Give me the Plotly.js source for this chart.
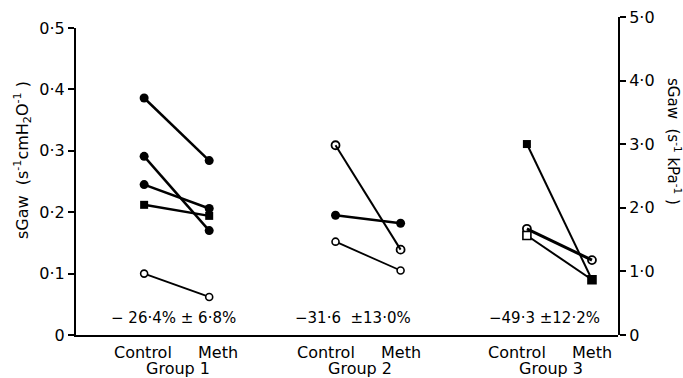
<!DOCTYPE html>
<html>
<head>
<meta charset="utf-8">
<script src="https://cdn.plot.ly/plotly-3.0.1.min.js"></script>
<style>
  html, body { margin: 0; padding: 0; background: #fff; }
  #chart { width: 683px; height: 378px; }
</style>
</head>
<body>
<div id="chart"></div>
<script>
// Specific airway conductance before (Control) and after methacholine (Meth)
const groupNames = ['Group 1', 'Group 2', 'Group 3'];
const conditionNames = ['Control', 'Meth'];

// one entry per subject: group number, control and post-methacholine sGaw (s^-1 cmH2O^-1)
const subjectGroup  = [1, 1, 1, 1, 1, 2, 2, 2, 3, 3, 3];
const controlSgaw   = [0.386, 0.291, 0.245, 0.212, 0.100, 0.309, 0.195, 0.152, 0.311, 0.173, 0.162];
const methSgaw      = [0.284, 0.170, 0.206, 0.194, 0.062, 0.139, 0.182, 0.105, 0.090, 0.122, 0.090];

// mean percentage change per group
const changeLabels = ['\u2212 26\u00b74%\u00a0\u00b1 6\u00b78%', '\u221231\u00b76\u00a0\u00a0\u00b113\u00b70%', '\u221249\u00b73\u00a0\u00b112\u00b72%'];

// axis tick labels
const leftTickVals  = [0, 0.1, 0.2, 0.3, 0.4, 0.5];
const leftTickText  = ['0', '0\u00b71', '0\u00b72', '0\u00b73', '0\u00b74', '0\u00b75'];
const rightTickVals = [0, 1, 2, 3, 4, 5];
const rightTickText = ['0', '1\u00b70', '2\u00b70', '3\u00b70', '4\u00b70', '5\u00b70'];

// marker look for each subject
const FILLED = 'filled', HOLLOW = 'hollow', CROSSED = 'crossed';
const subjectStyle = [
  { sym: ['circle', 'circle'], kind: FILLED, lw: 2.5 },
  { sym: ['circle', 'circle'], kind: FILLED, lw: 2.5 },
  { sym: ['circle', 'circle'], kind: FILLED, lw: 2.5 },
  { sym: ['square', 'square'], kind: FILLED, lw: 2.5 },
  { sym: ['circle', 'circle'], kind: HOLLOW, lw: 1.8 },
  { sym: ['circle-open', 'circle-open'], kind: CROSSED, lw: 2 },
  { sym: ['circle', 'circle'], kind: FILLED, lw: 2.5 },
  { sym: ['circle', 'circle'], kind: HOLLOW, lw: 1.8 },
  { sym: ['square', 'square'], kind: FILLED, lw: 2 },
  { sym: ['circle-open', 'circle-open'], kind: CROSSED, lw: 3 },
  { sym: ['square', 'square'], kind: HOLLOW, lw: 2, methFilled: true }
];

const OFFSET = 0.17;           // half distance between Control and Meth within a group
const FONT = 'DejaVu Sans, Arial, sans-serif';

const traces = subjectGroup.map((g, i) => {
  const st = subjectStyle[i];
  const x = [g - OFFSET, g + OFFSET];
  const y = [controlSgaw[i], methSgaw[i]];
  let marker;
  if (st.kind === FILLED) {
    marker = { symbol: st.sym, size: st.sym[0] === 'square' ? 8 : 9, color: '#000', line: { color: '#000', width: 0 } };
  } else if (st.kind === HOLLOW) {
    const fill = st.methFilled ? ['#fff', '#000'] : ['#fff', '#fff'];
    marker = { symbol: st.sym, size: st.sym[0] === 'square' ? 8 : 7, color: fill, line: { color: '#000', width: 1.6 } };
  } else {
    marker = { symbol: st.sym, size: 8, color: '#000', line: { color: '#000', width: 1.8 } };
  }
  return {
    type: 'scatter', mode: 'lines+markers', x: x, y: y,
    xaxis: 'x', yaxis: 'y',
    line: { color: '#000', width: st.lw },
    marker: marker, showlegend: false, hoverinfo: 'skip', cliponaxis: false
  };
});

// empty carrier trace so the kPa axis subplot gets drawn
traces.unshift({ type: 'scatter', mode: 'markers', x: [null], y: [null], xaxis: 'x2', yaxis: 'y2',
  showlegend: false, hoverinfo: 'skip' });

const annotations = [];
const labelShift = [1, -8, -8];
const changeShift = [-3, -15, -15];
groupNames.forEach((name, k) => {
  const g = k + 1;
  annotations.push({ xref: 'x', yref: 'paper', x: g - OFFSET, y: 0, xshift: labelShift[k] - 2, yshift: -17,
    text: conditionNames[0], showarrow: false, yanchor: 'middle', xanchor: 'center', font: { family: FONT, size: 16, color: '#000' } });
  annotations.push({ xref: 'x', yref: 'paper', x: g + OFFSET, y: 0, xshift: labelShift[k] + 8, yshift: -17,
    text: conditionNames[1], showarrow: false, yanchor: 'middle', xanchor: 'center', font: { family: FONT, size: 16, color: '#000' } });
  annotations.push({ xref: 'x', yref: 'paper', x: g, y: 0, xshift: labelShift[k], yshift: -33,
    text: name, showarrow: false, yanchor: 'middle', xanchor: 'center', font: { family: FONT, size: 16, color: '#000' } });
  annotations.push({ xref: 'x', yref: 'paper', x: g, y: 0, xshift: changeShift[k], yshift: 17,
    text: changeLabels[k], showarrow: false, yanchor: 'middle', xanchor: 'center', font: { family: FONT, size: 15, color: '#000' } });
});

// axis titles
annotations.push({ xref: 'paper', yref: 'paper', x: 0, y: 0.55, xshift: -54, textangle: -90,
  text: 'sGaw\u00a0\u00a0(s<sup>-1</sup>cmH<sub>2</sub>O<sup>-1</sup>\u00a0)', showarrow: false,
  xanchor: 'center', yanchor: 'middle', font: { family: FONT, size: 16, color: '#000' } });
annotations.push({ xref: 'paper', yref: 'paper', x: 1, y: 0.61, xshift: 56, textangle: 90,
  text: 'sGaw\u00a0\u00a0(s<sup>-1</sup>\u00a0kPa<sup>-1</sup>\u00a0)', showarrow: false,
  xanchor: 'center', yanchor: 'middle', font: { family: FONT, size: 15, color: '#000' } });

const axisCommon = {
  showgrid: false, zeroline: false, showline: true, linecolor: '#000', linewidth: 2,
  ticks: 'outside', ticklen: 6, tickwidth: 2, tickcolor: '#000',
  tickfont: { family: FONT, size: 16, color: '#000' }, fixedrange: true
};

const layout = {
  width: 683, height: 378,
  margin: { l: 76, r: 65, t: 17, b: 43, pad: 0 },
  paper_bgcolor: '#fff', plot_bgcolor: 'rgba(0,0,0,0)',
  showlegend: false,
  xaxis: { range: [0.474, 3.306], showgrid: false, zeroline: false, showline: true, linecolor: '#000', linewidth: 2,
           showticklabels: false, ticks: '', fixedrange: true },
  yaxis: Object.assign({}, axisCommon, { range: [0, 0.5], domain: [0, 0.9654], tickvals: leftTickVals, ticktext: leftTickText }),
  // right-hand axis in kPa units, on its own subplot so its top can sit higher
  xaxis2: { anchor: 'y2', domain: [0, 1], range: [0, 1], visible: false, fixedrange: true },
  yaxis2: Object.assign({}, axisCommon, { anchor: 'x2', side: 'right', range: [0, 5], domain: [0, 1],
           tickvals: rightTickVals, ticktext: rightTickText }),
  annotations: annotations
};

Plotly.newPlot('chart', traces, layout, { displayModeBar: false, staticPlot: true });
</script>
</body>
</html>
